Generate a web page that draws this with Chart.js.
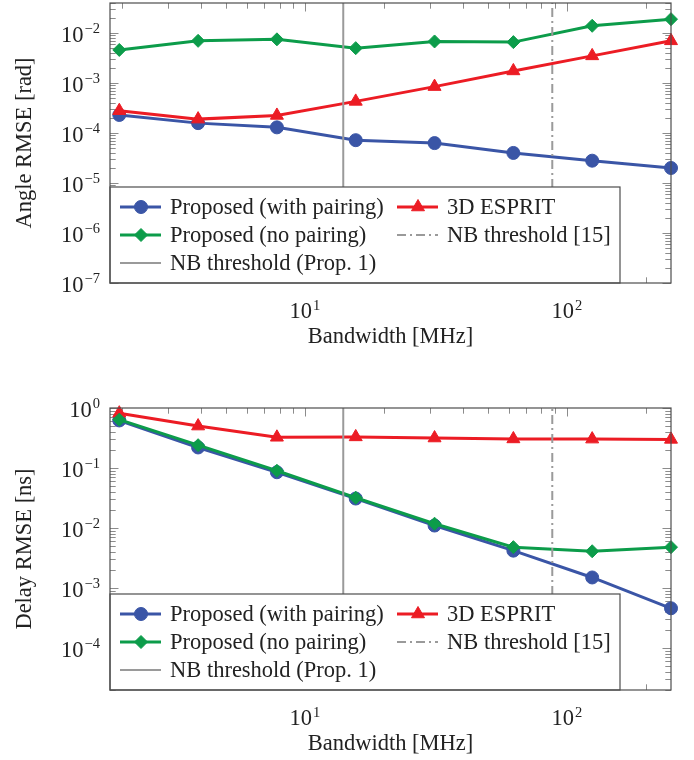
<!DOCTYPE html>
<html>
<head>
<meta charset="utf-8">
<script src="https://cdn.jsdelivr.net/npm/chart.js@4.4.0/dist/chart.umd.min.js"></script>
<style>
  body { margin: 0; background: #fff; }
  #wrap { position: relative; width: 694px; height: 760px; }
  canvas { position: absolute; left: 0; }
</style>
</head>
<body>
<div id="wrap">
  <canvas id="angleChart" width="694" height="380" style="top:0"></canvas>
  <canvas id="delayChart" width="694" height="380" style="top:380px"></canvas>
</div>
<script>
// bandwidth grid [MHz]
var bandwidth = [1.953125, 3.90625, 7.8125, 15.625, 31.25, 62.5, 125, 250];

// angle RMSE [rad]
var angleWithPairing = [2.3e-4, 1.58e-4, 1.3e-4, 7.2e-5, 6.3e-5, 4.0e-5, 2.8e-5, 2.0e-5];
var angleNoPairing   = [4.6e-3, 7.0e-3, 7.5e-3, 5.0e-3, 6.8e-3, 6.6e-3, 1.4e-2, 1.9e-2];
var angleEsprit      = [2.8e-4, 1.9e-4, 2.25e-4, 4.3e-4, 8.5e-4, 1.75e-3, 3.5e-3, 7.0e-3];

// delay RMSE [ns]
var delayWithPairing = [0.62, 0.22, 0.085, 0.031, 0.011, 4.2e-3, 1.5e-3, 4.6e-4];
var delayNoPairing   = [0.64, 0.24, 0.09, 0.032, 0.0118, 4.8e-3, 4.1e-3, 4.8e-3];
var delayEsprit      = [0.82, 0.5, 0.325, 0.33, 0.316, 0.305, 0.303, 0.30];

// narrowband thresholds [MHz]
var nbThresholdProp1 = 14;
var nbThresholdRef15 = 88;

// tick labels (decades)
var xTicks = [10, 100];
var angleTicks = [1e-7, 1e-6, 1e-5, 1e-4, 1e-3, 1e-2];
var delayTicks = [1e-4, 1e-3, 1e-2, 1e-1, 1];

var legendOrder = ['Proposed (with pairing)', '3D ESPRIT', 'Proposed (no pairing)',
                   'NB threshold [15]', 'NB threshold (Prop. 1)'];

var FAMILY = "'Liberation Serif', serif";
var FSIZE = 22.5;
var MAIN = FSIZE + 'px ' + FAMILY;
var SUPF = '14.5px ' + FAMILY;
var TEXT = '#222';
var BLUE = '#3a55a6', GREEN = '#0c9c4a', RED = '#ec1c24', GRAY = '#9a9a9a';

function pts(ys) {
  return bandwidth.map(function (x, i) { return {x: x, y: ys[i]}; });
}
function vline(x, lo, hi) { return [{x: x, y: lo}, {x: x, y: hi}]; }

function logValues(min, max) {
  var out = [];
  for (var k = Math.floor(Math.log10(min)); k <= Math.ceil(Math.log10(max)); k++) {
    for (var m = 1; m <= 9; m++) {
      var v = m * Math.pow(10, k);
      if (v >= min * 0.999 && v <= max * 1.001) out.push({v: v, major: m === 1});
    }
  }
  return out;
}

// "10" with a raised exponent, y is the baseline of "10"
function drawPow(ctx, v, x, y, align) {
  var e = String(Math.round(Math.log10(v))).replace('-', '\u2212');
  ctx.font = MAIN;
  var w1 = ctx.measureText('10').width;
  ctx.font = SUPF;
  var w2 = ctx.measureText(e).width;
  var total = w1 + 1 + w2;
  var start = align === 'right' ? x - total : x - total / 2;
  ctx.font = MAIN;
  ctx.fillText('10', start, y);
  ctx.font = SUPF;
  ctx.fillText(e, start + w1 + 1, y - 8.5);
}

function drawLegend(chart) {
  var ctx = chart.ctx, a = chart.chartArea;
  var w = 510, h = 96, x0 = a.left, y0 = a.bottom - h;
  ctx.save();
  ctx.fillStyle = '#fff';
  ctx.fillRect(x0, y0, w, h);
  ctx.strokeStyle = '#4d4d4d';
  ctx.lineWidth = 1.2;
  ctx.strokeRect(x0, y0, w, h);
  ctx.font = MAIN;
  ctx.textBaseline = 'middle';
  legendOrder.forEach(function (label, i) {
    var ds = chart.data.datasets.filter(function (d) { return d.label === label; })[0];
    var col = i % 2, row = Math.floor(i / 2);
    var lx = x0 + (col ? 287 : 10), y = y0 + 20 + row * 28;
    ctx.strokeStyle = ds.borderColor;
    ctx.lineWidth = ds.borderWidth;
    ctx.setLineDash(ds.borderDash || []);
    ctx.beginPath(); ctx.moveTo(lx, y); ctx.lineTo(lx + 41, y); ctx.stroke();
    ctx.setLineDash([]);
    if (ds.pointRadius > 0) {
      ctx.fillStyle = ds.borderColor;
      ctx.lineWidth = 1;
      Chart.helpers.drawPoint(ctx, {pointStyle: ds.pointStyle, radius: ds.pointRadius, rotation: 0, borderWidth: 1}, lx + 21, y);
    }
    ctx.fillStyle = TEXT;
    ctx.fillText(label, lx + 50, y + 1);
  });
  ctx.restore();
}

function makeFrame(yTicks) {
  return {
    id: 'frameTicks',
    beforeDatasetsDraw: function (chart) {
      var ctx = chart.ctx, a = chart.chartArea, xs = chart.scales.x, ys = chart.scales.y;
      ctx.save();
      ctx.strokeStyle = '#8c8c8c';
      ctx.lineWidth = 1;
      ctx.beginPath();
      logValues(xs.min, xs.max).forEach(function (t) {
        var p = Math.round(xs.getPixelForValue(t.v)) + 0.5, len = t.major ? 8.5 : 5.7;
        ctx.moveTo(p, a.top); ctx.lineTo(p, a.top + len);
        ctx.moveTo(p, a.bottom); ctx.lineTo(p, a.bottom - len);
      });
      logValues(ys.min, ys.max).forEach(function (t) {
        var p = Math.round(ys.getPixelForValue(t.v)) + 0.5, len = t.major ? 8.5 : 5.7;
        ctx.moveTo(a.left, p); ctx.lineTo(a.left + len, p);
        ctx.moveTo(a.right, p); ctx.lineTo(a.right - len, p);
      });
      ctx.stroke();
      ctx.restore();
    },
    afterDatasetsDraw: function (chart) {
      drawLegend(chart);
    },
    afterDraw: function (chart) {
      var ctx = chart.ctx, a = chart.chartArea, xs = chart.scales.x, ys = chart.scales.y;
      ctx.save();
      ctx.strokeStyle = '#4d4d4d';
      ctx.lineWidth = 1.2;
      ctx.strokeRect(a.left, a.top, a.right - a.left, a.bottom - a.top);
      ctx.fillStyle = TEXT;
      ctx.textAlign = 'left';
      ctx.textBaseline = 'alphabetic';
      xTicks.forEach(function (v) {
        drawPow(ctx, v, xs.getPixelForValue(v), a.bottom + 35, 'center');
      });
      yTicks.forEach(function (v) {
        drawPow(ctx, v, a.left - 10, ys.getPixelForValue(v) + 8.5, 'right');
      });
      ctx.restore();
    }
  };
}

function makePanel(id, p) {
  var font = {family: FAMILY, size: FSIZE};
  return new Chart(document.getElementById(id), {
    type: 'line',
    data: {
      datasets: [
        {label: 'Proposed (with pairing)', data: pts(p.withPairing), borderColor: BLUE, backgroundColor: BLUE,
         pointStyle: 'circle', pointRadius: 6.5, pointBorderWidth: 1, borderWidth: 3, order: 3, clip: false},
        {label: '3D ESPRIT', data: pts(p.esprit), borderColor: RED, backgroundColor: RED,
         pointStyle: 'triangle', pointRadius: 7.5, pointBorderWidth: 1, borderWidth: 3, order: 2, clip: false},
        {label: 'Proposed (no pairing)', data: pts(p.noPairing), borderColor: GREEN, backgroundColor: GREEN,
         pointStyle: 'rectRot', pointRadius: 6.5, pointBorderWidth: 1, borderWidth: 3, order: 1, clip: false},
        {label: 'NB threshold [15]', data: vline(nbThresholdRef15, p.yMin, p.yMax), borderColor: GRAY,
         borderDash: [9, 4, 2, 4], borderWidth: 2, pointRadius: 0, order: 0},
        {label: 'NB threshold (Prop. 1)', data: vline(nbThresholdProp1, p.yMin, p.yMax), borderColor: GRAY,
         borderWidth: 2, pointRadius: 0, order: 0}
      ]
    },
    options: {
      responsive: false,
      animation: false,
      devicePixelRatio: 1,
      layout: {autoPadding: false, padding: {top: p.padTop, right: 23, bottom: p.padBottom, left: 0}},
      plugins: {legend: {display: false}, tooltip: {enabled: false}},
      scales: {
        x: {
          type: 'logarithmic', min: 1.8, max: 250,
          grid: {display: false}, border: {display: false},
          ticks: {display: false},
          afterFit: function (s) { s.height = 70; s.paddingLeft = 0; s.paddingRight = 0; },
          title: {display: true, text: 'Bandwidth [MHz]', font: font, color: TEXT, padding: {top: 0, bottom: 2}}
        },
        y: {
          type: 'logarithmic', min: p.yMin, max: p.yMax,
          grid: {display: false}, border: {display: false},
          ticks: {display: false},
          afterFit: function (s) { s.width = 110; s.paddingTop = 0; s.paddingBottom = 0; },
          title: {display: true, text: p.yTitle, font: font, color: TEXT, padding: {top: 12, bottom: 0}}
        }
      }
    },
    plugins: [makeFrame(p.yTicks)]
  });
}

makePanel('angleChart', {
  withPairing: angleWithPairing, noPairing: angleNoPairing, esprit: angleEsprit,
  yMin: 1e-7, yMax: 0.04, yTicks: angleTicks, yTitle: 'Angle RMSE [rad]',
  padTop: 3, padBottom: 27
});
makePanel('delayChart', {
  withPairing: delayWithPairing, noPairing: delayNoPairing, esprit: delayEsprit,
  yMin: 2e-5, yMax: 1, yTicks: delayTicks, yTitle: 'Delay RMSE [ns]',
  padTop: 28, padBottom: 0
});
</script>
</body>
</html>
